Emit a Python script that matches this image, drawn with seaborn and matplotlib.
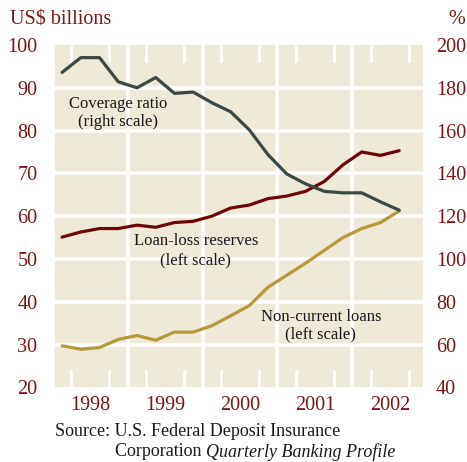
import matplotlib
matplotlib.use("Agg")
import matplotlib.pyplot as plt
import pandas as pd
import seaborn as sns

# Quarterly FDIC figures, 1998Q1 - 2002Q3
quarters = ["1998Q1", "1998Q2", "1998Q3", "1998Q4",
            "1999Q1", "1999Q2", "1999Q3", "1999Q4",
            "2000Q1", "2000Q2", "2000Q3", "2000Q4",
            "2001Q1", "2001Q2", "2001Q3", "2001Q4",
            "2002Q1", "2002Q2", "2002Q3"]
coverage_ratio = [187.2, 194.1, 194.1, 182.8, 180.0, 184.8, 177.4, 178.0, 173.0, 168.8,
                  160.3, 148.7, 139.7, 135.1, 131.6, 130.9, 130.9, 126.7, 122.8]
loan_loss_reserves = [55.1, 56.3, 57.1, 57.1, 57.9, 57.4, 58.5, 58.8, 60.0, 61.9,
                      62.6, 64.1, 64.7, 65.8, 68.1, 72.0, 75.0, 74.2, 75.3]
noncurrent_loans = [29.7, 28.9, 29.3, 31.2, 32.1, 31.0, 32.9, 32.9, 34.4, 36.7,
                    39.1, 43.4, 46.2, 49.0, 52.0, 55.0, 57.1, 58.5, 61.2]
years = [1998, 1999, 2000, 2001, 2002]
left_ticks = [20, 30, 40, 50, 60, 70, 80, 90, 100]
right_ticks = [40, 60, 80, 100, 120, 140, 160, 180, 200]

BG = "#efe9d7"
LABEL_RED = "#7a1616"
RED = "#6c0808"
GREY = "#3b4944"
GOLD = "#b7983a"

sns.set_style("white")
plt.rcParams["font.family"] = ["Liberation Serif", "DejaVu Serif"]

# Place each quarter at its midpoint on a fractional-year axis
pos = [int(q[:4]) + (int(q[-1]) - 0.5) / 4 for q in quarters]
df = pd.DataFrame({"t": pos, "coverage": coverage_ratio,
                   "reserves": loan_loss_reserves, "noncurrent": noncurrent_loans})

W, H = 467, 462
fig = plt.figure(figsize=(W / 100, H / 100), dpi=100)
ax = fig.add_axes([54 / W, 1 - 387.3 / H, (423.3 - 54) / W, (387.3 - 45) / H])
ax.set_facecolor(BG)

sns.lineplot(data=df, x="t", y="reserves", ax=ax, color=RED, linewidth=2.3)
sns.lineplot(data=df, x="t", y="noncurrent", ax=ax, color=GOLD, linewidth=2.3)

ax.set_xlim(1998.017, 2002.947)
ax.set_ylim(20.33, 100)
ax.set_axisbelow(True)

# white grid: year boundaries and every 10 on the left scale
for v in left_ticks[1:-1]:
    ax.axhline(v, color="white", linewidth=2.6, zorder=0.6)
for y in years:
    ax.axvline(y, color="white", linewidth=2.6, zorder=0.6)

# quarter marks along top and bottom edges
qmarks = [y + q / 4 for y in years for q in (1, 2, 3)]
ax.set_xticks(qmarks, minor=True)
ax.tick_params(axis="x", which="minor", direction="in", length=12.3, width=1.9,
               color="white", top=True, bottom=True)
ax.set_xticks([y + 0.5 for y in years])
ax.set_xticklabels([str(y) for y in years])
ax.tick_params(axis="x", which="major", length=0, pad=6, labelsize=14.5,
               labelcolor=LABEL_RED)

ax.set_yticks(left_ticks)
ax.set_yticklabels([str(v) for v in left_ticks])
ax.tick_params(axis="y", length=0, pad=12, labelsize=14.5, labelcolor=LABEL_RED)
ax.set_xlabel("")
ax.set_ylabel("")
for s in ax.spines.values():
    s.set_visible(False)

ax2 = ax.twinx()
sns.lineplot(data=df, x="t", y="coverage", ax=ax2, color=GREY, linewidth=2.3)
ax2.set_ylim(40.66, 200)
ax2.set_yticks(right_ticks)
ax2.set_yticklabels([str(v) for v in right_ticks])
ax2.tick_params(axis="y", length=0, pad=9, labelsize=14.5, labelcolor=LABEL_RED)
ax2.set_ylabel("")
ax2.set_xlim(ax.get_xlim())
for s in ax2.spines.values():
    s.set_visible(False)

# series labels
lab = dict(fontsize=12, color="#1a1a1a", ha="center", va="center")
ax.text(1998.87, 86.2, "Coverage ratio", **lab)
ax.text(1998.87, 82.1, "(right scale)", **lab)
ax.text(1999.91, 54.1, "Loan-loss reserves", **lab)
ax.text(1999.91, 49.7, "(left scale)", **lab)
ax.text(2001.58, 36.4, "Non-current loans", **lab)
ax.text(2001.58, 32.3, "(left scale)", **lab)

# unit captions
fig.text(10 / W, 1 - 20 / H, "US$ billions", fontsize=14.5, color=LABEL_RED,
         ha="left", va="center")
fig.text(465 / W, 1 - 20 / H, "%", fontsize=14.5, color=LABEL_RED,
         ha="right", va="center")

# source note with hanging indent
src = dict(fontsize=13, color="#1a1a1a", va="center")
fig.text(55 / W, 1 - 432 / H, "Source: U.S. Federal Deposit Insurance", ha="left", **src)
t1 = fig.text(115 / W, 1 - 452 / H, "Corporation ", ha="left", **src)
renderer = fig.canvas.get_renderer()
bb = t1.get_window_extent(renderer=renderer)
fig.text(bb.x1 / W, 1 - 452 / H, "Quarterly Banking Profile", ha="left",
         style="italic", **src)

fig.savefig("out.png", dpi=100)
